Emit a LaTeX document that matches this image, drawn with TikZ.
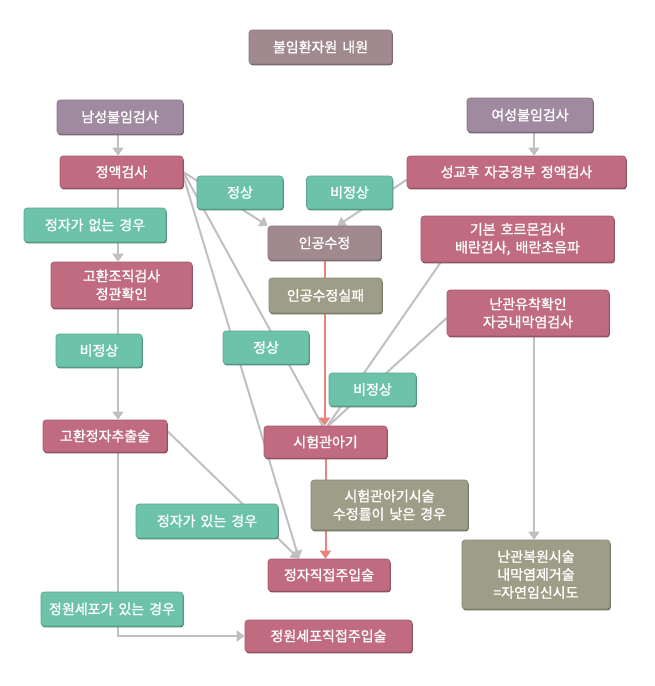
\documentclass[tikz,border=0pt]{standalone}
\usepackage{xcolor}
\usepackage{fontspec}
\setmainfont{Noto Sans CJK KR}[AutoFakeBold=1.3, WordSpace=1.6]
\usepackage{tikz}
\usetikzlibrary{arrows.meta,shadows}
\pgfdeclarelayer{bg}
\pgfsetlayers{bg,main}

\definecolor{visitcol}{RGB}{161,138,143}
\definecolor{sexcol}{RGB}{160,138,160}
\definecolor{testcol}{RGB}{192,107,128}
\definecolor{casecol}{RGB}{108,195,170}
\definecolor{failcol}{RGB}{158,158,136}
\definecolor{linegray}{RGB}{192,192,192}
\definecolor{linered}{RGB}{232,131,125}

\begin{document}
\begin{tikzpicture}[
				x = 1pt, y = -1pt,
				every node/.style = {text=white, font=\fontsize{14}{18}\selectfont\bfseries, align=center, inner sep=0pt},
				box/.style = {fill=#1, draw=#1!85!black, line width=0.6pt, rounded corners=3pt,
					drop shadow={shadow xshift=0.8pt, shadow yshift=-1.4pt, opacity=1, fill=#1!70!black}},
				link/.style = {draw=linegray, line width=2pt},
				conn/.style = {link, -{Triangle[width=11pt,length=8pt]}},
				redconn/.style = {draw=linered, line width=2pt, -{Triangle[width=11pt,length=8pt]}}
				]
				\useasboundingbox (0,0) rectangle (654,686);
				\coordinate (lcol) at (118,0);
				\coordinate (rcol) at (534,0);

				% 위쪽
				\node [box=visitcol, minimum width=143pt, minimum height=34pt] (visit) at (320.5,47) {불임환자원 내원};
				\node [box=sexcol, minimum width=126pt, minimum height=34pt] (male) at (120,117) {남성불임검사};
				\node [box=sexcol, minimum width=126pt, minimum height=34pt] (female) at (530,115) {여성불임검사};
				\node [box=testcol, minimum width=123pt, minimum height=32pt] (semen) at (121.5,172) {정액검사};
				\node [box=testcol, minimum width=219pt, minimum height=32pt] (pct) at (516.5,172) {성교후 자궁경부 정액검사};
				\node [box=casecol, minimum width=86pt, minimum height=33pt] (ok1) at (240,192.5) {정상};
				\node [box=casecol, minimum width=86pt, minimum height=33pt] (bad1) at (349.5,192.5) {비정상};
				\node [box=casecol, minimum width=142pt, minimum height=34pt] (none) at (95,225) {정자가 없는 경우};
				\node [box=visitcol, minimum width=113pt, minimum height=34pt] (ai) at (324.5,243) {인공수정};
				\node [box=testcol, minimum width=193pt, minimum height=46pt] (horm) at (517.5,239) {기본 호르몬검사\\배란검사, 배란초음파};
				\node [box=testcol, minimum width=141pt, minimum height=46pt] (biopsy) at (121.5,285) {고환조직검사\\정관확인};
				\node [box=failcol, minimum width=113pt, minimum height=35pt] (aifail) at (325.5,295.5) {인공수정실패};
				\node [box=testcol, minimum width=162pt, minimum height=46pt] (tube) at (528,313) {난관유착확인\\자궁내막염검사};

				% 가운데
				\node [box=casecol, minimum width=86pt, minimum height=33pt] (bad2) at (99,350.5) {비정상};
				\node [box=casecol, minimum width=86pt, minimum height=33pt] (ok2) at (266,347.5) {정상};
				\node [box=casecol, minimum width=87pt, minimum height=33pt] (bad3) at (372.5,389.5) {비정상};
				\node [box=testcol, minimum width=124pt, minimum height=32pt] (tese) at (105,436) {고환정자추출술};
				\node [box=testcol, minimum width=123pt, minimum height=32pt] (ivf) at (325.5,442) {시험관아기};
				\node [box=failcol, minimum width=157pt, minimum height=50pt] (ivflow) at (389.5,505) {시험관아기시술\\수정률이 낮은 경우};
				\node [box=casecol, minimum width=142pt, minimum height=34pt] (yes) at (207,521) {정자가 있는 경우};

				% 아래쪽
				\node [box=testcol, minimum width=122pt, minimum height=32pt] (icsi) at (329,575) {정자직접주입술};
				\node [box=failcol, minimum width=148pt, minimum height=69pt] (repair) at (536,574.5) {난관복원시술\\내막염제거술\\=자연임신시도};
				\node [box=casecol, minimum width=142pt, minimum height=34pt] (sperma) at (112,609) {정원세포가 있는 경우};
				\node [box=testcol, minimum width=167pt, minimum height=32pt] (spermicsi) at (328.5,636) {정원세포직접주입술};

				\begin{pgfonlayer}{bg}
				\draw [conn] (male.south -| lcol) -- (semen.north -| lcol);
				\draw [conn] (semen.south -| lcol) -- (biopsy.north -| lcol);
				\draw [conn] (biopsy.south -| lcol) -- (tese.north -| lcol);
				\draw [conn] (tese.south -| lcol) |- (spermicsi.west);
				\draw [conn] (female.south -| rcol) -- (pct.north -| rcol);
				\draw [conn] (tube.south -| rcol) -- (repair.north -| rcol);

				\draw [conn] (semen.east) -- (ai.north west);
				\draw [conn] (pct.184) -- ([xshift=13pt]ai.north);
				\draw [link] (semen.east) -- ([xshift=-3pt]ivf.north);
				\draw [conn] ([yshift=-4pt]semen.east) -- ([xshift=-30pt]icsi.north);
				\draw [conn] ([yshift=5pt]tese.east) -- ([xshift=-30pt]icsi.north);
				\draw [link] ([xshift=20pt]horm.south west) -- ([xshift=2pt]ivf.north);
				\draw [link] ([yshift=-5pt]tube.west) -- ([xshift=3pt]ivf.north);

				\draw [redconn] (ai.south) -- (ai.south |- ivf.north);
				\draw [redconn] (ivf.south) -- (ivf.south |- icsi.north);
				\end{pgfonlayer}
			\end{tikzpicture}
\end{document}
